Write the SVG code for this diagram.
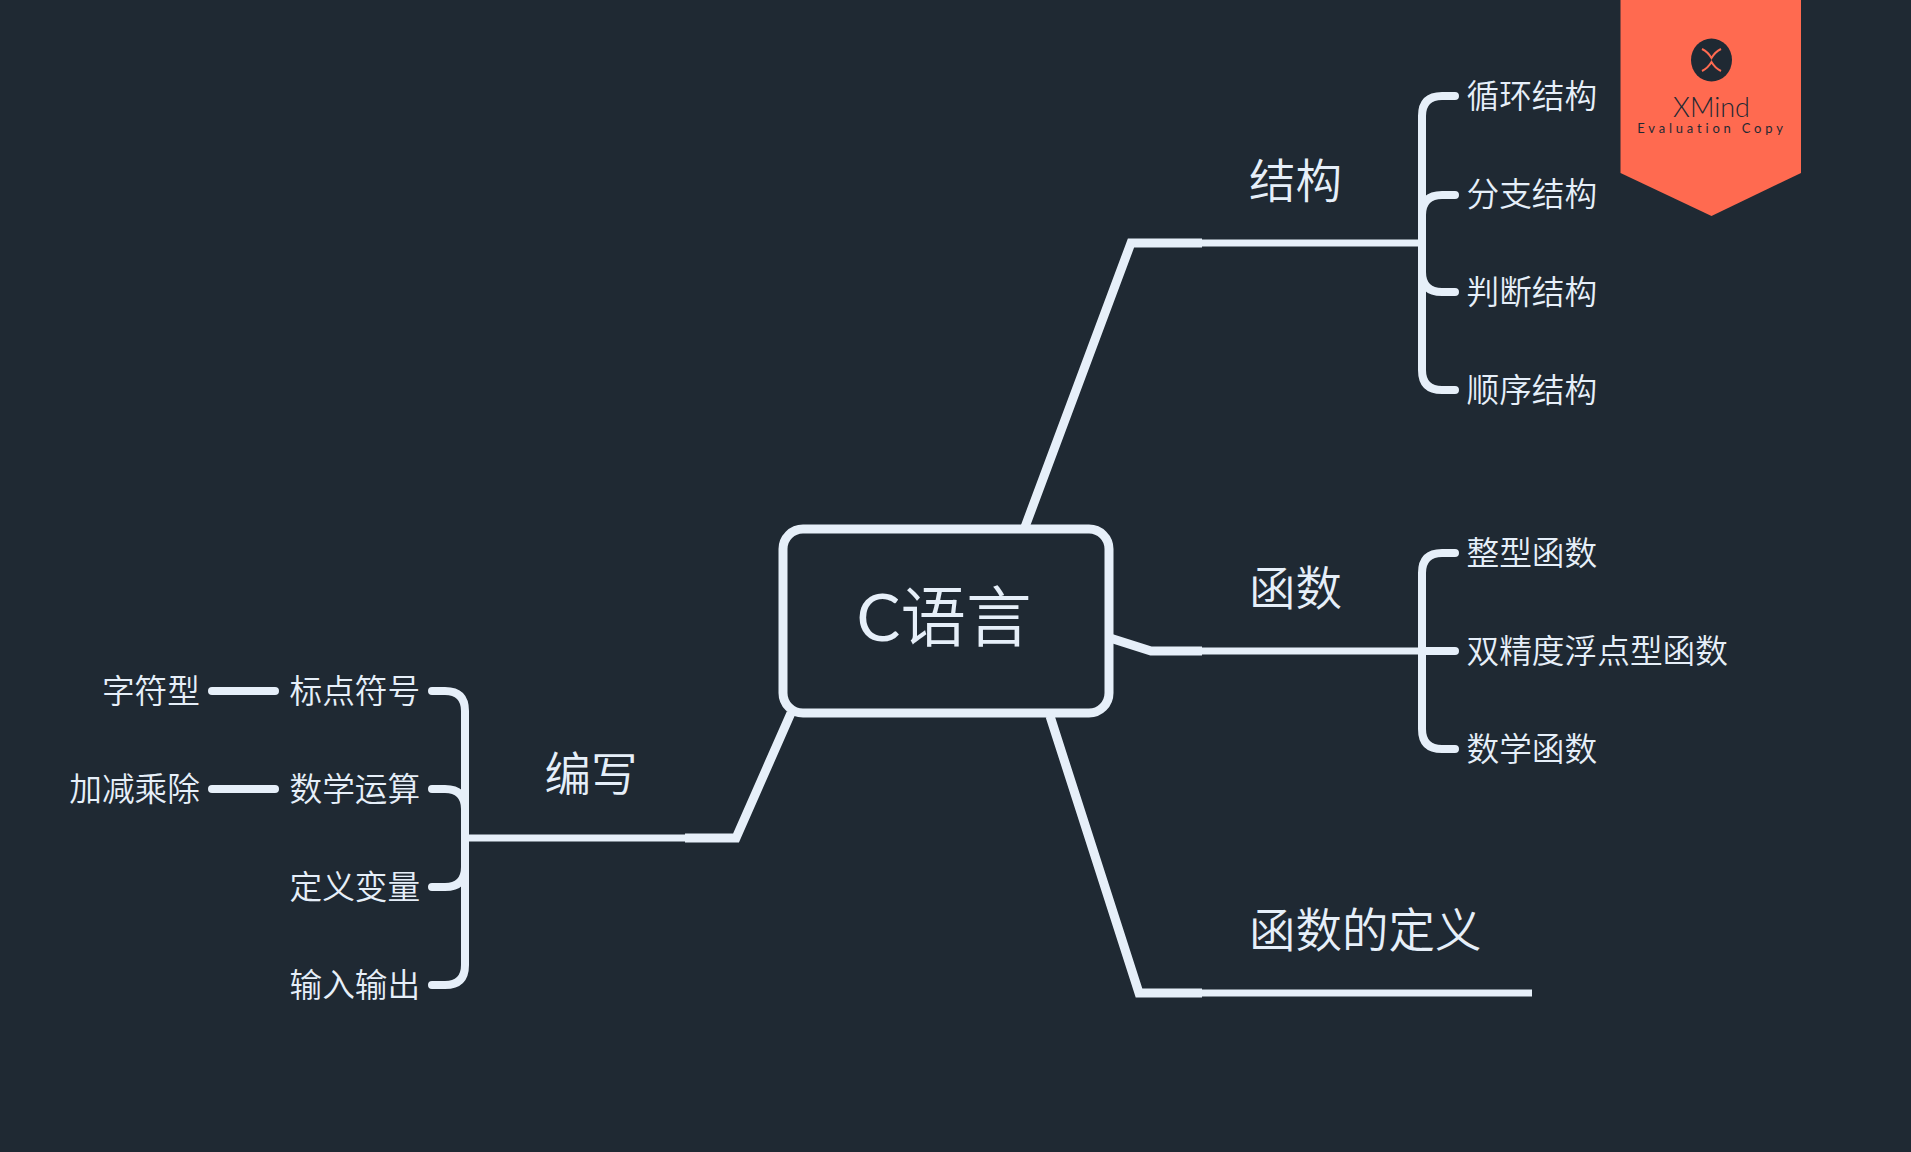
<svg xmlns="http://www.w3.org/2000/svg" width="1911" height="1152" viewBox="0 0 1911 1152">
<style>
text{font-family:"Noto Sans CJK SC","Noto Sans",sans-serif;fill:#e6eff9;font-weight:350}
.c{fill:none;stroke:#e6eff9;stroke-linecap:round;stroke-linejoin:miter}
.thick{stroke-width:9;stroke-linecap:butt}
.thin{stroke-width:7;stroke-linecap:butt}
.sub{stroke-width:8}
.t3{font-size:32.700px}
.t2{font-size:46.500px}
.end{text-anchor:end}
</style>
<rect width="1911" height="1152" fill="#1f2933"/>
<g id="connectors">
<path class="c thick" d="M1025 527L1131 243H1202"/>
<path class="c thin" d="M1202 243H1421"/>
<path class="c thick" d="M1110 638L1151 651H1202"/>
<path class="c thin" d="M1202 651H1421"/>
<path class="c thick" d="M1050 716L1139 993H1202"/>
<path class="c thin" d="M1202 993H1532"/>
<path class="c thick" d="M791 713L736 838H685"/>
<path class="c thin" d="M685 838H465"/>
<g class="c sub">
<path d="M1455 96H1442Q1422 96 1422 116V370Q1422 390 1442 390H1455"/>
<path d="M1455 195H1442Q1422 195 1422 215V272Q1422 292 1442 292H1455"/>
<path d="M1455 553H1442Q1422 553 1422 573V729Q1422 749 1442 749H1455"/>
<path d="M1422 651H1455"/>
<path d="M432 691H445Q465 691 465 711V965Q465 985 445 985H432"/>
<path d="M432 789H445Q465 789 465 809V867Q465 887 445 887H432"/>
<path d="M212 691H275"/>
<path d="M212 789H275"/>
</g>
</g>
<g id="root"><rect x="783" y="529" width="326" height="184" rx="20" fill="#1f2933" stroke="#e6eff9" stroke-width="9"/><text x="944" y="641" text-anchor="middle" font-size="65.500"><tspan style="font-family:Lato,sans-serif;font-weight:400">C</tspan>语言</text></g>
<g id="n-jiegou"><text class="t2" x="1249" y="198">结构</text></g>
<g id="n-xunhuan"><text class="t3" x="1466.500" y="108">循环结构</text></g>
<g id="n-fenzhi"><text class="t3" x="1466.500" y="206">分支结构</text></g>
<g id="n-panduan"><text class="t3" x="1466.500" y="304">判断结构</text></g>
<g id="n-shunxu"><text class="t3" x="1466.500" y="402">顺序结构</text></g>
<g id="n-hanshu"><text class="t2" x="1249" y="605">函数</text></g>
<g id="n-zhengxing"><text class="t3" x="1466.500" y="565">整型函数</text></g>
<g id="n-shuangjingdu"><text class="t3" x="1466.500" y="663">双精度浮点型函数</text></g>
<g id="n-shuxue"><text class="t3" x="1466.500" y="761">数学函数</text></g>
<g id="n-dingyi"><text class="t2" x="1249" y="947">函数的定义</text></g>
<g id="n-bianxie"><text class="t2" x="544.500" y="791">编写</text></g>
<g id="n-biaodian"><text class="t3" x="289.500" y="703">标点符号</text></g>
<g id="n-yunsuan"><text class="t3" x="289.500" y="801">数学运算</text></g>
<g id="n-bianliang"><text class="t3" x="289.500" y="899">定义变量</text></g>
<g id="n-shuru"><text class="t3" x="289.500" y="997">输入输出</text></g>
<g id="n-zifu"><text class="t3 end" x="200" y="703">字符型</text></g>
<g id="n-jiajian"><text class="t3 end" x="200" y="801">加减乘除</text></g>
<g id="watermark">
<polygon points="1620.500,0 1801,0 1801,173 1711.500,216 1620.500,173" fill="#ff6a50"/>
<ellipse cx="1711.500" cy="60" rx="20.500" ry="21.500" fill="#1f2933"/>
<path d="M1702 49Q1708 52 1711.500 58Q1715 52 1721 49M1702 71Q1708 68 1711.500 62Q1715 68 1721 71" fill="none" stroke="#ff6a50" stroke-width="2"/>
<text x="1711.500" y="117" text-anchor="middle" style="font-family:Lato,sans-serif;font-size:27px;font-weight:300;fill:#1f2933">XMind</text>
<text x="1712" y="133" text-anchor="middle" style="font-family:Lato,sans-serif;font-size:13px;font-weight:400;letter-spacing:3.800px;fill:#1f2933">Evaluation Copy</text>
</g>
</svg>
